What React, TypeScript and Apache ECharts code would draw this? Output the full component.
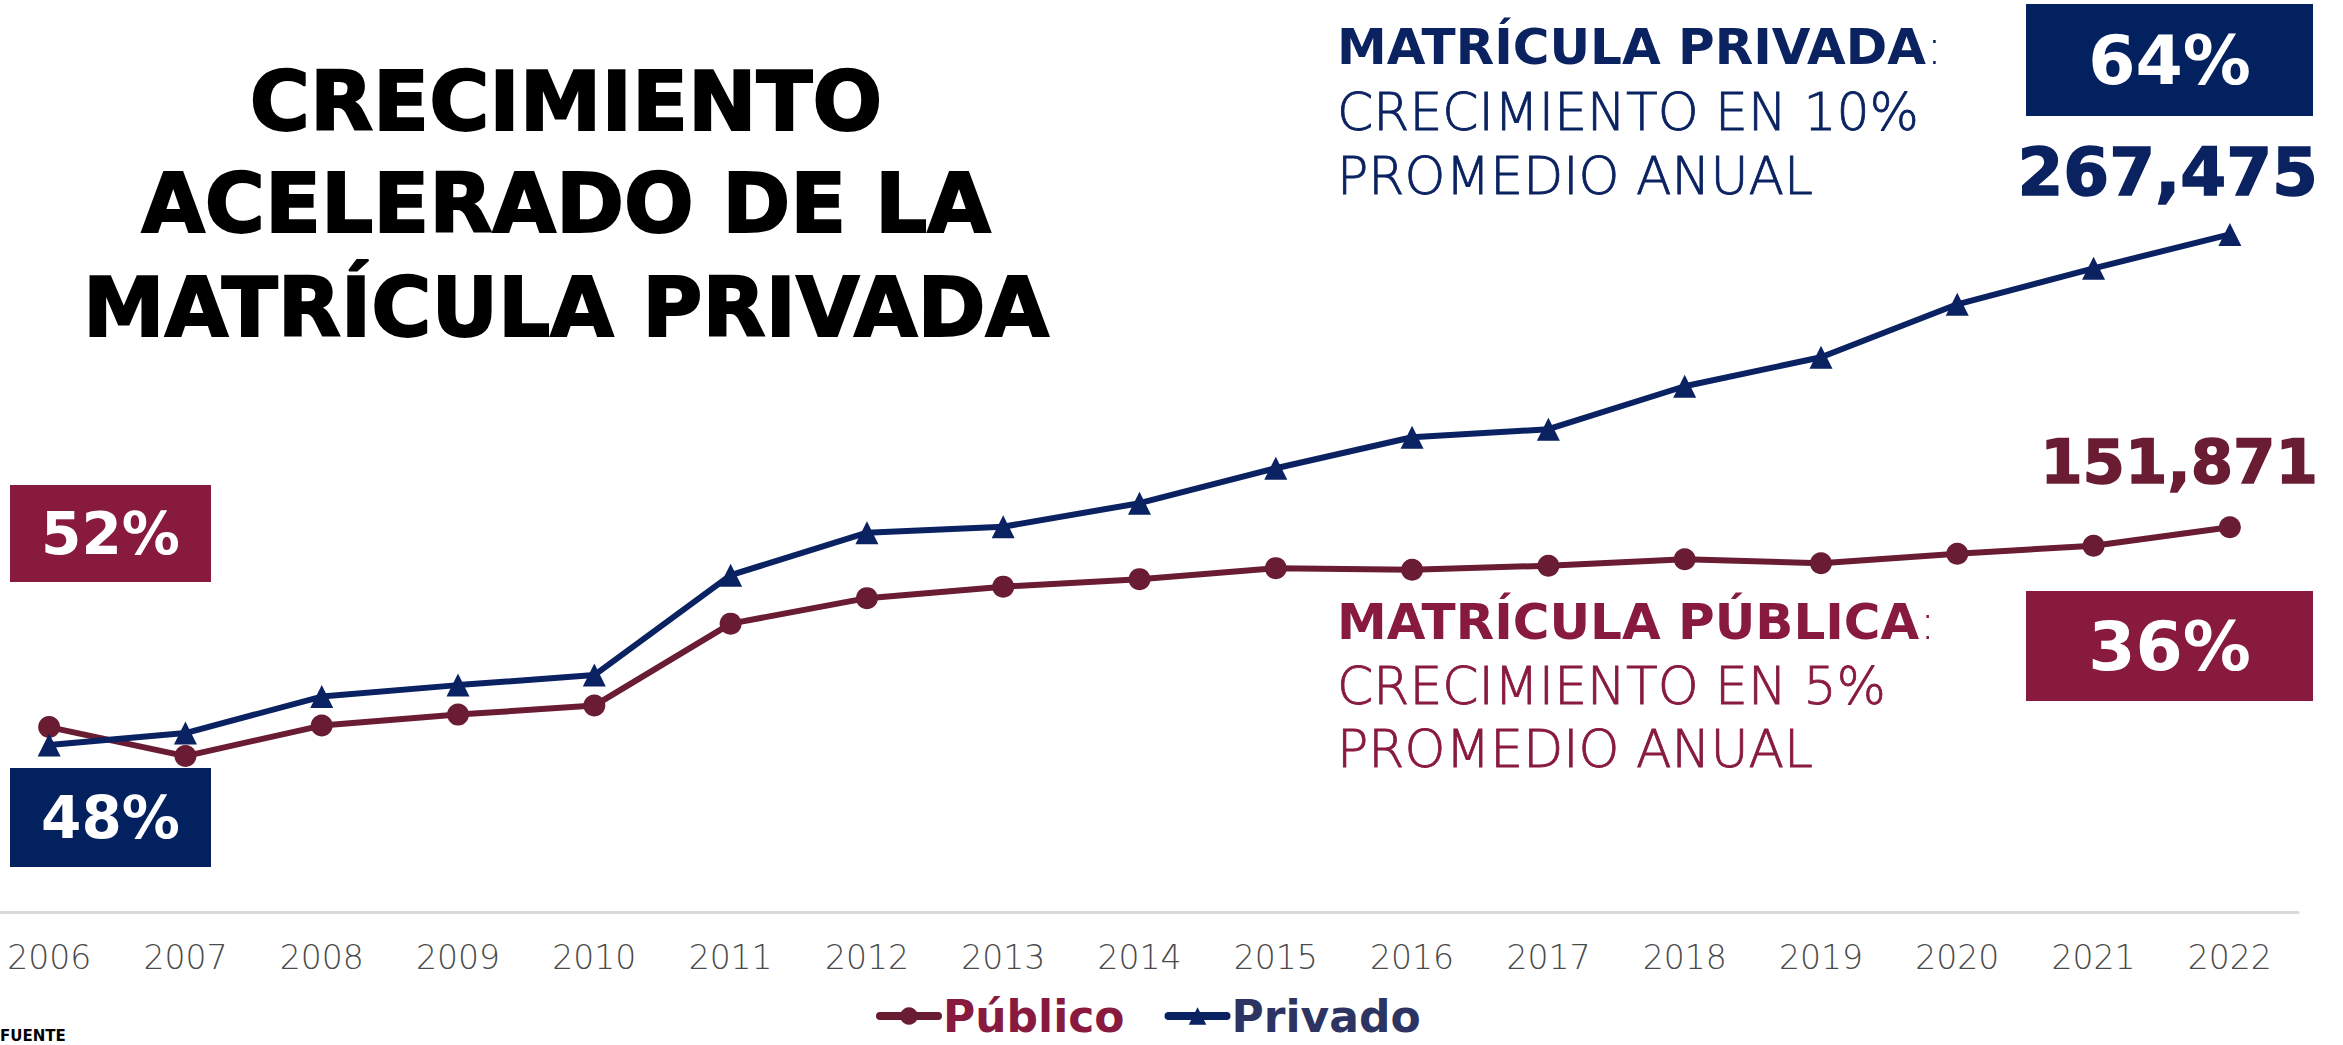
import React, { useEffect, useRef } from 'react';
import * as echarts from 'echarts';

const years = ['2006', '2007', '2008', '2009', '2010', '2011', '2012', '2013', '2014', '2015', '2016', '2017', '2018', '2019', '2020', '2021', '2022'];
const publico = [72990, 61550, 73580, 77920, 81480, 113830, 123890, 128430, 131390, 135730, 135130, 136710, 139280, 137700, 141450, 144600, 151871];
const privado = [65890, 70620, 85030, 89560, 93510, 132960, 149730, 152100, 161370, 175180, 187410, 190570, 207530, 218980, 239890, 254090, 267475];
const seriesNames = ['Público', 'Privado'];
const shareStart = ['52%', '48%'];
const shareEnd = ['36%', '64%'];
const titleLines = ['CRECIMIENTO', 'ACELERADO DE LA', 'MATRÍCULA PRIVADA'];
const privBlock = ['MATRÍCULA PRIVADA', 'CRECIMIENTO EN 10%', 'PROMEDIO ANUAL'];
const pubBlock = ['MATRÍCULA PÚBLICA', 'CRECIMIENTO EN 5%', 'PROMEDIO ANUAL'];
const sourceLabel = 'FUENTE';

const NAVY_LINE = '#0A2262';
const NAVY_BOX = '#03205F';
const NAVY_TEXT = '#0B2261';
const MAROON_LINE = '#6A1C33';
const MAROON_BOX = '#871A3D';
const MAROON_TEXT = '#88193F';
const BOLD = 'DejaVu Sans';
const LIGHT = 'DejaVu Sans';

// the chart div starts OX px left of the page so the first category sits where the reference has it
const OX = 19;

const fmt = (v: number) => v.toLocaleString('en-US');

function txt(text: string, x: number, y: number, size: number, color: string, weight: any, align: string = 'left', family: string = BOLD, strokeW: number = 0) {
  const style: any = { text, fill: color, fontSize: size, fontWeight: weight, fontFamily: family, align, verticalAlign: 'middle' };
  if (strokeW > 0) {
    style.stroke = color;
    style.lineWidth = strokeW;
  }
  return { type: 'text', x: x + OX, y, style };
}

function richBlock(head: string, x: number, y: number, color: string) {
  return {
    type: 'text',
    x: x + OX,
    y,
    style: {
      text: `{b|${head}}{r|:}`,
      fill: color,
      align: 'left',
      verticalAlign: 'middle',
      rich: {
        b: { fontSize: 50, fontWeight: 'bold', fontFamily: BOLD, fill: color },
        r: { fontSize: 50, fontWeight: 200, fontFamily: LIGHT, fill: color },
      },
    },
  };
}

function box(x: number, y: number, w: number, h: number, color: string, label: string, size: number) {
  return [
    { type: 'rect', shape: { x: x + OX, y, width: w, height: h }, style: { fill: color } },
    txt(label, x + w / 2, y + h / 2, size, '#ffffff', 'bold', 'center'),
  ];
}

export default function App() {
  const ref = useRef<HTMLDivElement>(null);
  useEffect(() => {
    const chart = echarts.init(ref.current!, null, { renderer: 'svg' });
    const graphic: any[] = [
      txt(titleLines[0], 566, 101, 82, '#000000', 'bold', 'center', BOLD, 2),
      txt(titleLines[1], 566, 203, 82, '#000000', 'bold', 'center', BOLD, 2),
      txt(titleLines[2], 566, 307, 82, '#000000', 'bold', 'center', BOLD, 2),
      richBlock(privBlock[0], 1337, 47, NAVY_TEXT),
      txt(privBlock[1], 1337, 112, 52, NAVY_TEXT, 200, 'left', LIGHT, 0.8),
      txt(privBlock[2], 1337, 176, 52, NAVY_TEXT, 200, 'left', LIGHT, 0.8),
      richBlock(pubBlock[0], 1337, 622, MAROON_TEXT),
      txt(pubBlock[1], 1337, 686, 52, MAROON_TEXT, 200, 'left', LIGHT, 0.8),
      txt(pubBlock[2], 1337, 749, 52, MAROON_TEXT, 200, 'left', LIGHT, 0.8),
      ...box(2026, 4, 287, 112, NAVY_BOX, shareEnd[1], 68),
      ...box(2026, 591, 287, 110, MAROON_BOX, shareEnd[0], 68),
      ...box(10, 485, 201, 97, MAROON_BOX, shareStart[0], 58),
      ...box(10, 768, 201, 99, NAVY_BOX, shareStart[1], 58),
      txt(fmt(privado[privado.length - 1]), 2318, 172, 66, NAVY_TEXT, 'bold', 'right', BOLD, 1.5),
      txt(fmt(publico[publico.length - 1]), 2318, 461, 61, MAROON_LINE, 'bold', 'right', BOLD, 1.5),
      {
        type: 'text',
        x: OX,
        y: 1036,
        style: { text: sourceLabel, fill: '#000', fontSize: 15, fontWeight: 'bold', fontFamily: BOLD, align: 'left', verticalAlign: 'middle' },
      },
    ];
    chart.setOption({
      animation: false,
      backgroundColor: '#ffffff',
      grid: { left: 0, right: 45, top: 152, bottom: 133, containLabel: false },
      legend: {
        left: 871 + OX,
        top: 989,
        itemWidth: 58,
        itemHeight: 22,
        itemGap: 40,
        lineStyle: { width: 8, cap: 'round' },
        data: [
          { name: seriesNames[0], textStyle: { color: MAROON_TEXT } },
          { name: seriesNames[1], textStyle: { color: '#2E3461' } },
        ],
        textStyle: { fontSize: 44, fontWeight: 'bold', fontFamily: BOLD, lineHeight: 44 },
      },
      xAxis: {
        type: 'category',
        data: years,
        boundaryGap: true,
        axisLine: { show: true, lineStyle: { color: '#d9d9d9', width: 3 } },
        axisTick: { show: false },
        axisLabel: { interval: 0, color: '#4a4a4a', fontSize: 33, fontFamily: LIGHT, fontWeight: 200, margin: 28, lineHeight: 34 },
        splitLine: { show: false },
      },
      yAxis: {
        type: 'value',
        min: 0,
        max: 300000,
        show: false,
        splitLine: { show: false },
      },
      series: [
        {
          name: seriesNames[0],
          type: 'line',
          data: publico,
          color: MAROON_LINE,
          symbol: 'circle',
          symbolSize: 22,
          lineStyle: { width: 6, color: MAROON_LINE },
          itemStyle: { color: MAROON_LINE },
          z: 2,
        },
        {
          name: seriesNames[1],
          type: 'line',
          data: privado,
          color: NAVY_LINE,
          symbol: 'triangle',
          symbolSize: 23,
          lineStyle: { width: 6, color: NAVY_LINE },
          itemStyle: { color: NAVY_LINE },
          z: 3,
        },
      ],
      graphic,
    });
    return () => chart.dispose();
  }, []);
  return <div ref={ref} style={{ position: 'absolute', left: -OX, top: 0, width: 2343 + OX, height: 1045, background: '#fff' }} />;
}
